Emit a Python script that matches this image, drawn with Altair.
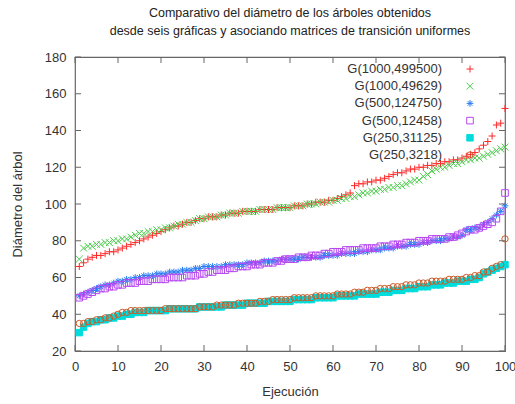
import altair as alt
import pandas as pd

series_names = ["G(1000,499500)", "G(1000,49629)", "G(500,124750)",
                "G(500,12458)", "G(250,31125)", "G(250,3218)"]
runs = list(range(1, 101))

s_1000_499500 = [66, 68, 70, 71, 72, 72, 73, 74, 74, 75, 76, 77, 78, 79, 80, 81, 82, 83, 84, 85,
                 86, 87, 88, 88, 89, 90, 90, 91, 92, 92, 93, 93, 93, 94, 94, 95, 95, 95, 96, 96,
                 96, 96, 97, 97, 97, 97, 98, 98, 98, 98, 99, 99, 99, 100, 100, 101, 101, 101, 102, 102,
                 103, 104, 105, 106, 110, 111, 111, 112, 112, 113, 113, 114, 115, 116, 117, 117, 118, 119, 119, 120,
                 120, 121, 121, 122, 122, 123, 123, 124, 124, 125, 126, 127, 128, 130, 132, 134, 137, 143, 144, 152]
s_1000_49629 = [70, 76, 77, 77, 78, 78, 79, 79, 80, 80, 81, 81, 82, 83, 84, 84, 85, 85, 86, 86,
                87, 87, 88, 89, 89, 90, 90, 91, 92, 92, 93, 93, 93, 94, 94, 95, 95, 95, 96, 96,
                96, 96, 97, 97, 97, 97, 98, 98, 98, 98, 99, 99, 99, 100, 100, 100, 101, 101, 101, 102,
                102, 103, 103, 104, 104, 105, 106, 106, 107, 107, 108, 108, 109, 109, 110, 110, 111, 112, 113, 113,
                115, 116, 118, 119, 120, 120, 121, 122, 122, 123, 124, 124, 125, 125, 126, 127, 128, 129, 130, 131]
s_500_124750 = [50, 51, 52, 53, 54, 55, 56, 56, 57, 58, 58, 59, 59, 60, 60, 61, 61, 61, 62, 62,
                62, 63, 63, 63, 64, 64, 64, 65, 65, 66, 66, 66, 66, 66, 67, 67, 67, 67, 67, 68,
                68, 68, 68, 69, 69, 69, 69, 70, 70, 70, 70, 70, 71, 71, 71, 71, 71, 72, 72, 72,
                72, 73, 73, 73, 73, 74, 74, 74, 75, 75, 75, 76, 76, 76, 77, 77, 77, 78, 78, 78,
                79, 79, 80, 80, 80, 81, 81, 82, 82, 83, 86, 86, 87, 87, 89, 90, 92, 94, 96, 99]
s_500_12458 = [49, 50, 51, 52, 53, 54, 54, 55, 55, 56, 56, 57, 57, 57, 58, 58, 58, 59, 59, 59,
               59, 60, 60, 60, 60, 61, 61, 61, 62, 62, 63, 63, 64, 64, 64, 65, 65, 66, 66, 66,
               67, 67, 67, 68, 68, 68, 69, 69, 70, 70, 70, 71, 71, 71, 72, 72, 72, 73, 73, 74,
               74, 74, 75, 75, 75, 75, 76, 76, 76, 76, 77, 77, 77, 78, 78, 78, 79, 79, 79, 80,
               80, 80, 81, 81, 81, 81, 82, 82, 83, 84, 85, 86, 86, 87, 88, 89, 90, 92, 96, 106]
s_250_31125 = [30, 33, 35, 36, 36, 37, 37, 38, 38, 39, 39, 40, 40, 41, 41, 41, 42, 42, 42, 42,
               42, 43, 43, 43, 43, 43, 43, 43, 44, 44, 44, 44, 44, 44, 45, 45, 45, 45, 45, 46,
               46, 46, 46, 46, 47, 47, 47, 47, 47, 47, 48, 48, 48, 48, 48, 49, 49, 49, 49, 49,
               50, 50, 50, 50, 50, 51, 51, 51, 51, 51, 52, 52, 52, 53, 53, 53, 54, 54, 54, 55,
               55, 55, 56, 56, 56, 57, 57, 57, 58, 58, 58, 59, 59, 60, 62, 63, 64, 65, 66, 67]
s_250_3218 = [35, 35, 36, 36, 37, 37, 38, 38, 39, 40, 41, 41, 42, 42, 42, 42, 42, 42, 42, 42,
              43, 43, 43, 43, 43, 43, 43, 43, 44, 44, 44, 44, 45, 45, 45, 45, 45, 46, 46, 46,
              46, 46, 47, 47, 47, 48, 48, 48, 48, 48, 49, 49, 49, 49, 49, 50, 50, 50, 50, 50,
              51, 51, 51, 51, 52, 52, 52, 53, 53, 53, 54, 54, 54, 55, 55, 55, 56, 56, 56, 57,
              57, 57, 58, 58, 58, 58, 59, 59, 59, 59, 60, 60, 61, 61, 63, 63, 65, 66, 67, 81]

x_ticks = list(range(0, 101, 10))
y_ticks = list(range(20, 181, 20))

colors = ["#ff2828", "#4ccb4c", "#2a7cf5", "#b648f0", "#00dcdc", "#cc5a28"]
fills = ["transparent", "transparent", "transparent", "transparent", "#00dcdc", "transparent"]
shapes = ["M-1,0L1,0M0,-1L0,1",
          "M-1,-1L1,1M-1,1L1,-1",
          "M-1,0L1,0M0,-1L0,1M-0.7,-0.7L0.7,0.7M-0.7,0.7L0.7,-0.7",
          "square", "square", "circle"]
sizes = [49, 40, 36, 40, 42, 28]

all_values = [s_1000_499500, s_1000_49629, s_500_124750, s_500_12458, s_250_31125, s_250_3218]
rows = []
for name, vals in zip(series_names, all_values):
    for r, v in zip(runs, vals):
        rows.append({"serie": name, "ejecucion": r, "diametro": v})
df = pd.DataFrame(rows)
legend_df = pd.DataFrame({"serie": series_names})
xt_df = pd.DataFrame({"t": x_ticks})
yt_df = pd.DataFrame({"t": y_ticks})

W, H = 430, 294
FONT = "Liberation Sans"
GRAY = "#666666"

xscale = alt.Scale(domain=[0, 100], nice=False)
yscale = alt.Scale(domain=[20, 180], nice=False)

xaxis = alt.Axis(title="Ejecución", values=x_ticks, ticks=False, domain=False,
                 grid=False, labelPadding=9, titlePadding=12, labelFontSize=13,
                 titleFontSize=13, labelFont=FONT, titleFont=FONT,
                 labelOverlap=False, labelBound=False, labelFlush=False,
                 labelColor="#333", titleColor="#333", titleFontWeight="normal")
yaxis = alt.Axis(title="Diámetro del árbol", values=y_ticks, ticks=False, domain=False,
                 grid=False, labelPadding=9, titlePadding=20, labelFontSize=13,
                 titleFontSize=13, labelFont=FONT, titleFont=FONT,
                 labelOverlap=False, labelBound=False, labelFlush=False,
                 labelColor="#333", titleColor="#333", titleFontWeight="normal")

common_scales = dict(
    shape=alt.Shape("serie:N", scale=alt.Scale(domain=series_names, range=shapes), legend=None),
    stroke=alt.Stroke("serie:N", scale=alt.Scale(domain=series_names, range=colors), legend=None),
    fill=alt.Fill("serie:N", scale=alt.Scale(domain=series_names, range=fills), legend=None),
    size=alt.Size("serie:N", scale=alt.Scale(domain=series_names, range=sizes), legend=None),
)

points = alt.Chart(df).mark_point(strokeWidth=1, opacity=1).encode(
    x=alt.X("ejecucion:Q", scale=xscale, axis=xaxis),
    y=alt.Y("diametro:Q", scale=yscale, axis=yaxis),
    **common_scales,
)

tick_bottom = alt.Chart(xt_df).mark_rule(color=GRAY, strokeWidth=1).encode(
    x=alt.X("t:Q", scale=xscale, axis=xaxis), y=alt.value(H), y2=alt.value(H - 6))
tick_top = alt.Chart(xt_df).mark_rule(color=GRAY, strokeWidth=1).encode(
    x=alt.X("t:Q", scale=xscale, axis=xaxis), y=alt.value(0), y2=alt.value(6))
tick_left = alt.Chart(yt_df).mark_rule(color=GRAY, strokeWidth=1).encode(
    y=alt.Y("t:Q", scale=yscale, axis=yaxis), x=alt.value(0), x2=alt.value(6))
tick_right = alt.Chart(yt_df).mark_rule(color=GRAY, strokeWidth=1).encode(
    y=alt.Y("t:Q", scale=yscale, axis=yaxis), x=alt.value(W), x2=alt.value(W - 6))

main = alt.layer(points, tick_bottom, tick_top, tick_left, tick_right)

leg_y = alt.Y("serie:N", sort=series_names,
              scale=alt.Scale(type="point", domain=series_names, range=[12, 98], padding=0),
              axis=None)
leg_text = alt.Chart(legend_df).mark_text(align="right", baseline="middle", fontSize=13,
                                          font=FONT, color="#333").encode(
    y=leg_y, x=alt.value(367), text="serie:N")
leg_sym = alt.Chart(legend_df).mark_point(strokeWidth=1, opacity=1).encode(
    y=leg_y, x=alt.value(395), **common_scales)
legend = alt.layer(leg_text, leg_sym)

chart = alt.layer(main, legend).resolve_scale(y="independent").properties(
    width=W, height=H,
    title=alt.TitleParams(
        ["Comparativo del diámetro de los árboles obtenidos",
         "desde seis gráficas y asociando matrices de transición uniformes"],
        fontSize=12.5, font=FONT, fontWeight="normal", color="#222", anchor="middle",
        offset=14, lineHeight=18),
    autosize=alt.AutoSizeParams(type="none"),
    padding={"left": 75, "top": 57, "right": 10, "bottom": 53},
    background="white",
).configure_view(stroke=GRAY, strokeWidth=1.2)

chart.save("out.html", embed_options={"renderer": "svg", "actions": False})
